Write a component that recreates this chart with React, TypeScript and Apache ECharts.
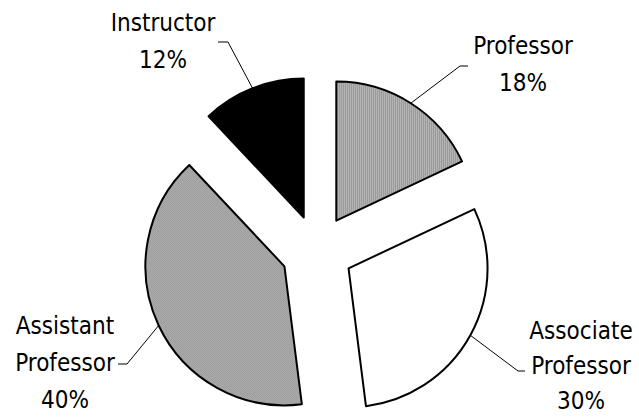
import React, { useEffect, useRef } from "react";
import * as echarts from "echarts";

const categories = ["Professor", "Associate\nProfessor", "Assistant\nProfessor", "Instructor"];
const shares = [18, 30, 40, 12];

// label layout (centers of text blocks, elbow and end of leader lines)
const labelCenters = [[523, 64], [581, 366], [65, 363], [163, 41]];
const labelLineHeights = [37, 35, 37, 37];
const labelElbows = [[460, 66], [518, 371], [127, 364], [228, 42]];
const labelEnds = [[468, 66], [525, 371], [118, 364], [218, 42]];

const CENTER = [317, 251];
const RADIUS = 139;
const OFFSET = 36;

function makePattern(kind: string) {
  const c = document.createElement("canvas");
  c.width = 2;
  c.height = 2;
  const ctx = c.getContext("2d")!;
  if (kind === "stripes") {
    ctx.fillStyle = "#8a8a8a";
    ctx.fillRect(0, 0, 1, 2);
    ctx.fillStyle = "#c4c4c4";
    ctx.fillRect(1, 0, 1, 2);
  } else {
    ctx.fillStyle = "#ffffff";
    ctx.fillRect(0, 0, 2, 2);
    ctx.fillStyle = "#4a4a4a";
    ctx.fillRect(0, 0, 1, 1);
    ctx.fillRect(1, 1, 1, 1);
  }
  return { image: c, repeat: "repeat", imageWidth: 2, imageHeight: 2 } as any;
}

export default function App() {
  const ref = useRef<HTMLDivElement>(null);
  useEffect(() => {
    document.body.style.margin = "0";
    const chart = echarts.init(ref.current!, undefined, { renderer: "svg" });
    const fills = [makePattern("stripes"), "#ffffff", makePattern("checker"), "#000000"];
    const total = shares.reduce((a, b) => a + b, 0);
    const midAngles: number[] = [];
    let acc = 0;
    shares.forEach((v) => {
      midAngles.push(((acc + v / 2) / total) * Math.PI * 2);
      acc += v;
    });
    const textStyle = {
      fontFamily: "'DejaVu Sans Condensed', 'Liberation Sans', Arial, sans-serif",
      fontSize: 24,
      lineHeight: 37,
      color: "#000000",
    };
    chart.setOption({
      animation: false,
      backgroundColor: "#ffffff",
      series: [
        {
          type: "pie",
          center: CENTER,
          radius: RADIUS,
          startAngle: 90,
          clockwise: true,
          selectedMode: "multiple",
          selectedOffset: OFFSET,
          emphasis: { disabled: true },
          silent: true,
          itemStyle: { borderColor: "#000000", borderWidth: 2 },
          label: { show: false },
          labelLine: { show: false },
          data: categories.map((name, i) => ({
            name,
            value: shares[i],
            selected: true,
            itemStyle: { color: fills[i] },
            select: { itemStyle: { color: fills[i], borderColor: "#000000", borderWidth: 2 } },
          })),
        },
        {
          // label layer: same slices, transparent, carries the category labels
          type: "pie",
          center: CENTER,
          radius: RADIUS,
          startAngle: 90,
          clockwise: true,
          silent: true,
          avoidLabelOverlap: false,
          emphasis: { disabled: true },
          itemStyle: { color: "rgba(0,0,0,0)", borderWidth: 0 },
          label: {
            show: true,
            position: "outside",
            formatter: "{b}\n{d}%",
            align: "center",
            ...textStyle,
          },
          labelLine: { show: true, length: 20, length2: 10, lineStyle: { color: "#000000", width: 1 } },
          labelLayout: (p: any) => {
            const i = p.dataIndex;
            const a = midAngles[i];
            const R = RADIUS + OFFSET;
            const start = [CENTER[0] + R * Math.sin(a), CENTER[1] - R * Math.cos(a)];
            return {
              x: labelCenters[i][0],
              y: labelCenters[i][1],
              align: "center",
              verticalAlign: "middle",
              labelLinePoints: [start, labelElbows[i], labelEnds[i]],
            };
          },
          data: categories.map((name, i) => ({
            name,
            value: shares[i],
            label: { lineHeight: labelLineHeights[i] },
          })),
        },
      ],
    });
    return () => chart.dispose();
  }, []);
  return <div ref={ref} style={{ width: 639, height: 418 }} />;
}
